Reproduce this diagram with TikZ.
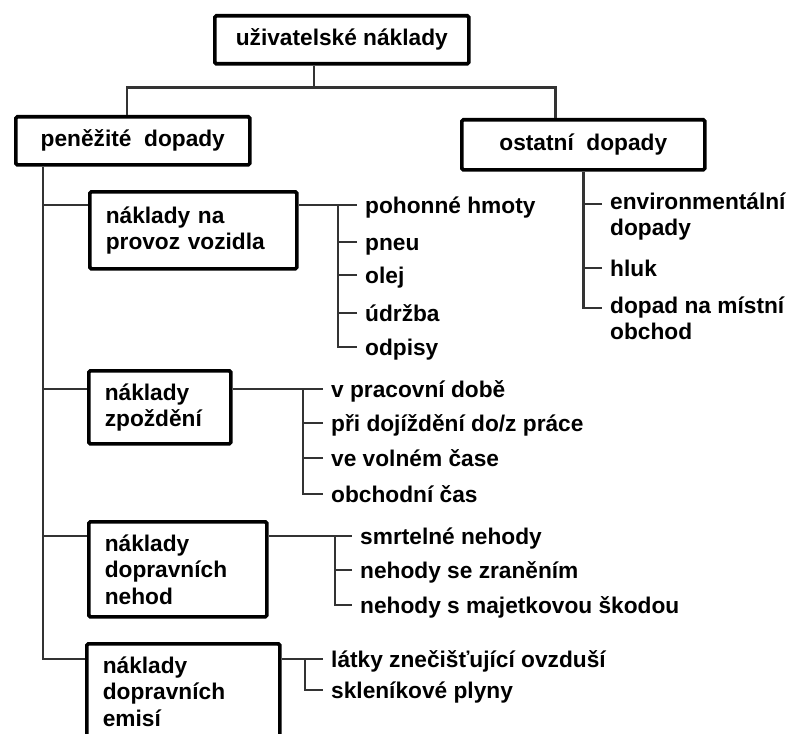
\documentclass[tikz,border=0pt]{standalone}
\usepackage{fontspec}
\setmainfont{Liberation Sans}
\usetikzlibrary{positioning, calc}
\newcommand{\costfont}{\fontsize{22.7}{26.5}\selectfont\bfseries}
\tikzset{
    % Box Styles
    costbox/.style={
        rectangle,
        draw=black,
        line width=3.6pt,
        rounded corners=1.5pt,
        fill=white,
        anchor=north west,
        inner xsep=16pt,
        inner ysep=0pt,
        font=\costfont
    },
    topbox/.style={costbox, align=center},
    subbox/.style={costbox, align=left},
    % Leaf & Line Styles
    leaf/.style={anchor=west, text height=16pt, text depth=0pt, inner xsep=8pt, inner ysep=0pt, font=\costfont},
    leafpair/.style={anchor=mid west, inner xsep=8pt, inner ysep=0pt, font=\costfont, align=left},
    link/.style={draw=black!80, line width=2.4pt}
}

\begin{document}
\begin{tikzpicture}[x=1pt, y=-1pt]

    \useasboundingbox (0,0) rectangle (797,733);

    % --- MAIN BOXES ---
    \node (top) [topbox, minimum width=254pt, minimum height=48pt] at (213,14) {uživatelské náklady};
    \node (pen) [topbox, minimum width=234pt, minimum height=48pt] at (14,115) {peněžité\ \ dopady};
    \node (ost) [topbox, minimum width=243pt, minimum height=50pt] at (460,118) {ostatní\ \ dopady};

    % --- SUB BOXES ---
    \node (prov)  [subbox, text width=175pt, minimum height=77pt] at (88,190) {náklady na\\provoz vozidla};
    \node (zpoz)  [subbox, text width=110pt, minimum height=73pt] at (87,369) {náklady\\zpoždění};
    \node (nehod) [subbox, text width=146pt, minimum height=95pt] at (87,520) {náklady\\dopravních\\nehod};
    \node (emis)  [subbox, text width=161pt, minimum height=95pt] at (85,642) {náklady\\dopravních\\emisí};

    % --- LEAVES ---
    \node (pohon)  [leaf] at (357,205) {pohonné hmoty};
    \node (pneu)   [leaf] at (357,242) {pneu};
    \node (olej)   [leaf] at (357,275) {olej};
    \node (udrzba) [leaf] at (357,313) {údržba};
    \node (odpisy) [leaf] at (357,347) {odpisy};

    \node (prace)  [leaf] at (323,389) {v pracovní době};
    \node (dojizd) [leaf] at (323,423) {při dojíždění do/z práce};
    \node (volno)  [leaf] at (323,458) {ve volném čase};
    \node (obchod) [leaf] at (323,494) {obchodní čas};

    \node (smrt)   [leaf] at (352,536) {smrtelné nehody};
    \node (zraneni)[leaf] at (352,570) {nehody se zraněním};
    \node (skoda)  [leaf] at (352,605) {nehody s majetkovou škodou};

    \node (latky)  [leaf] at (323,659) {látky znečišťující ovzduší};
    \node (plyny)  [leaf] at (323,690) {skleníkové plyny};

    % two-line leaves sit on their last line
    \node (env)    [leafpair] at (602,233) {environmentální\\dopady};
    \node (hluk)   [leaf] at (602,268) {hluk};
    \node (mistni) [leafpair] at (602,337) {dopad na místní\\obchod};

    % --- TOP FORK ---
    \draw [link] ([xshift=-28pt]top.south) -- ++(0,22) coordinate (hub);
    \draw [link] ([xshift=-6pt]pen.north) |- (hub) -| ([xshift=-28pt]ost.north);

    % --- SPINE OF MONEY COSTS ---
    \coordinate (spine) at ([xshift=29pt]pen.south west);
    \draw [link] (spine) |- (emis.west |- latky.west);
    \draw [link] (spine |- pohon.west) -- (prov.west |- pohon.west);
    \draw [link] (spine |- prace.west) -- (zpoz.west |- prace.west);
    \draw [link] (spine |- smrt.west) -- (nehod.west |- smrt.west);

    % --- LEAF BARS ---
    \draw [link] (prov.east |- pohon.west) -- (pohon.west);
    \draw [link] ([xshift=-19pt]pohon.west) |- (odpisy.west);
    \foreach \n in {pneu, olej, udrzba}
        \draw [link] (\n.west) -- ++(-19,0);

    \draw [link] (zpoz.east |- prace.west) -- (prace.west);
    \draw [link] ([xshift=-20pt]prace.west) |- (obchod.west);
    \foreach \n in {dojizd, volno}
        \draw [link] (\n.west) -- ++(-20,0);

    \draw [link] (nehod.east |- smrt.west) -- (smrt.west);
    \draw [link] ([xshift=-17pt]smrt.west) |- (skoda.west);
    \draw [link] (zraneni.west) -- ++(-17,0);

    \draw [link] (emis.east |- latky.west) -- (latky.west);
    \draw [link] ([xshift=-18pt]latky.west) |- (plyny.west);

    \draw [link] (ost.south) |- ([yshift=29pt]mistni.mid west);
    \draw [link] ([yshift=29pt]env.mid west) -- ++(-19,0);
    \draw [link] (hluk.west) -- (ost.south |- hluk.west);

\end{tikzpicture}
\end{document}
